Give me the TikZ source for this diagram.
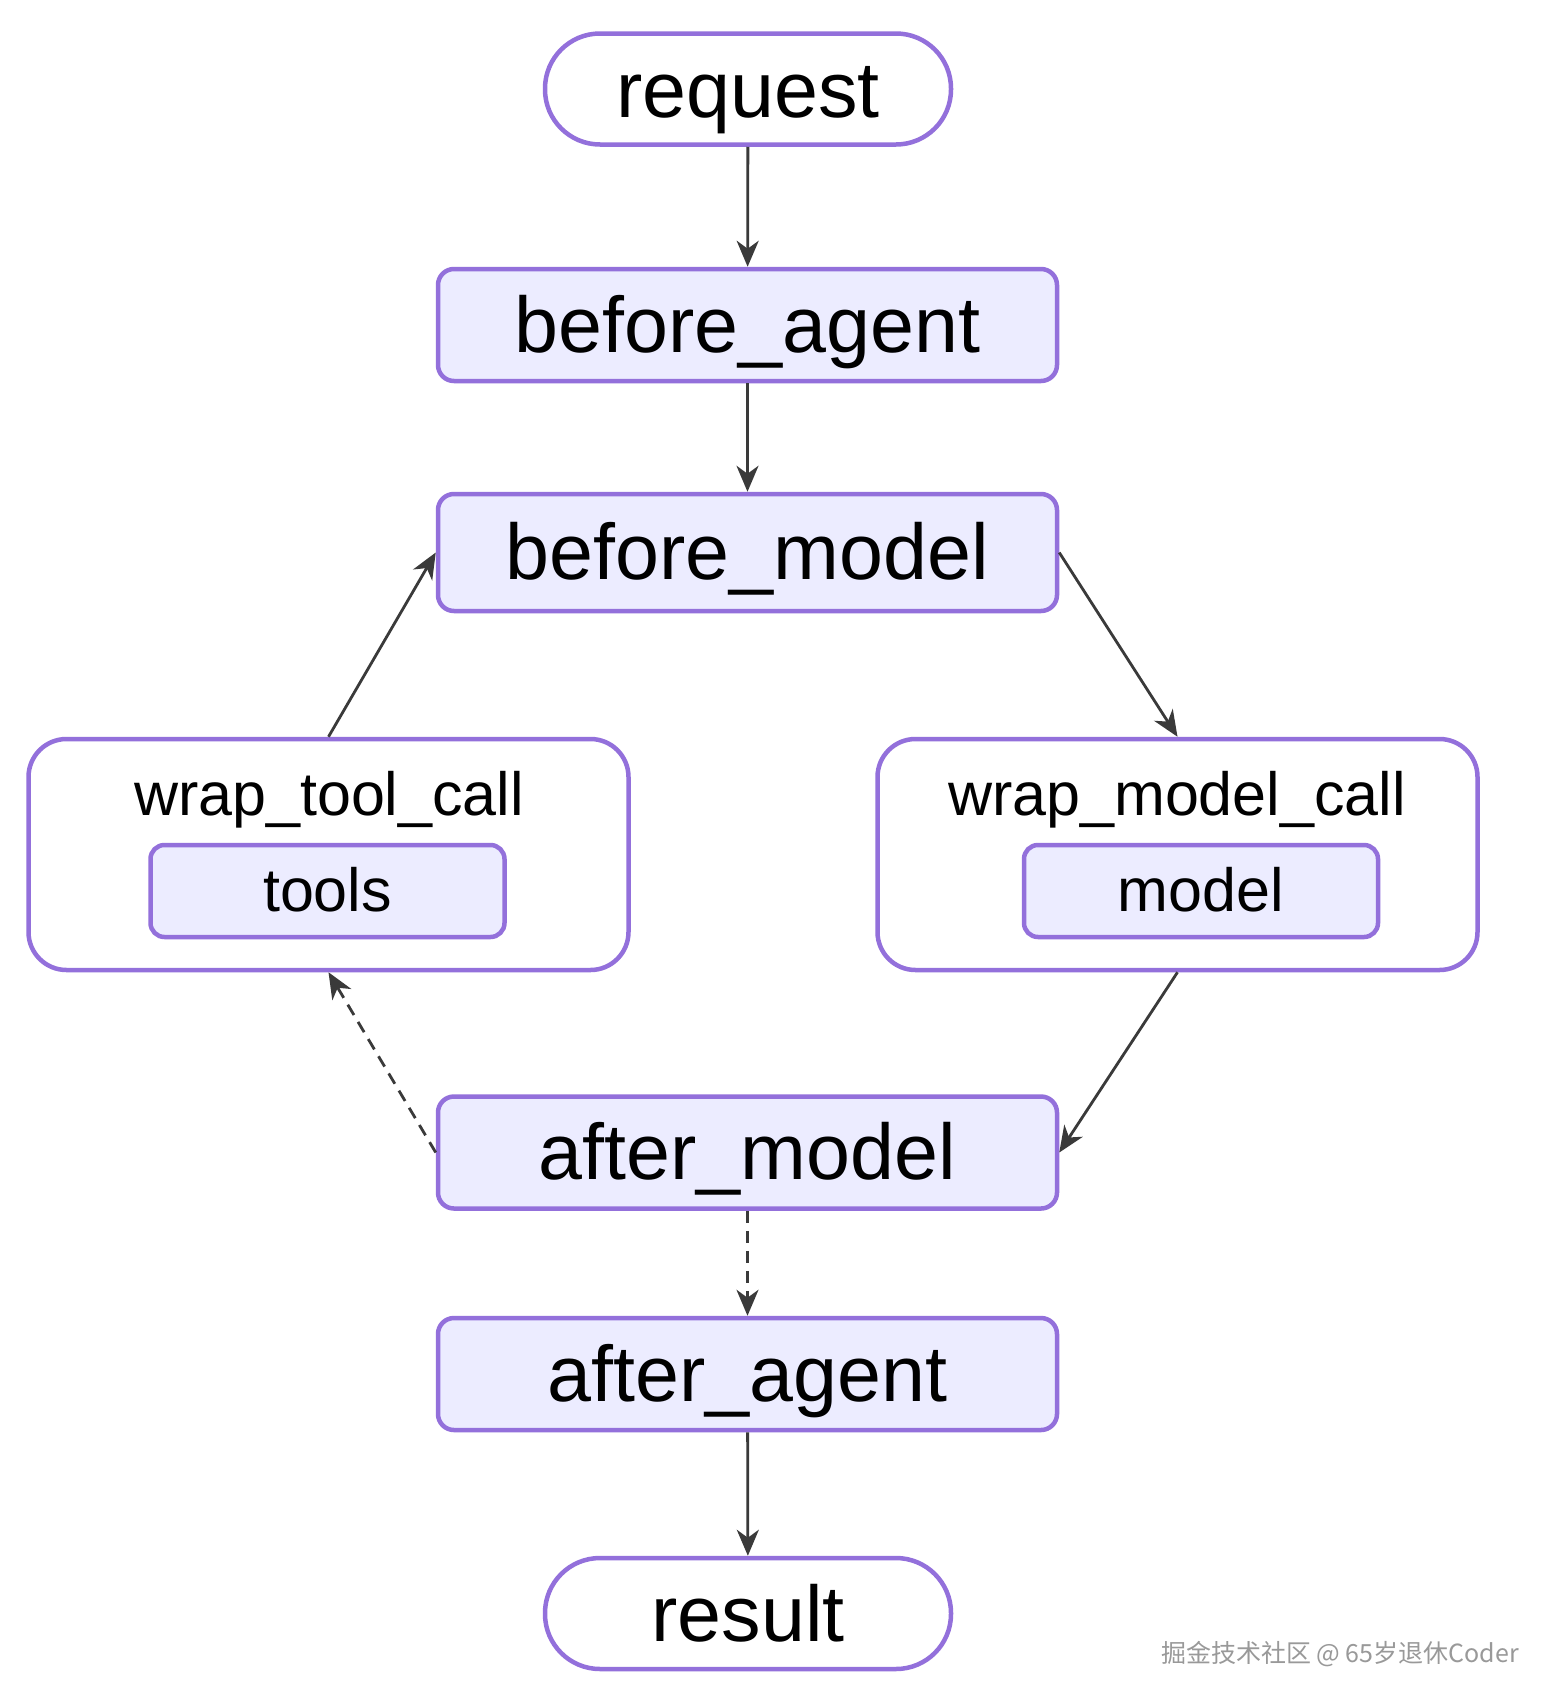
\documentclass[tikz,border=0pt]{standalone}
\usepackage{fontspec}
\setmainfont{Liberation Sans}
\newfontfamily\cjk{Noto Sans CJK SC}
\usetikzlibrary{arrows.meta}
\definecolor{bord}{HTML}{9370DB}
\definecolor{fillc}{HTML}{ECECFF}
\definecolor{edge}{HTML}{3A3A3A}
\tikzset{
  stadium/.style={draw=bord, line width=4.5pt, fill=white, rounded corners=55pt,
    minimum width=406pt, minimum height=111pt, inner sep=0pt, text height=56pt, text depth=0pt,
    font=\fontsize{79}{90}\selectfont},
  hookbox/.style={draw=bord, line width=4.5pt, fill=fillc, rounded corners=16pt,
    minimum width=619pt, minimum height=112pt, inner sep=0pt, text height=54pt, text depth=0pt,
    font=\fontsize{79}{90}\selectfont},
  cluster/.style={draw=bord, line width=4.5pt, fill=white, rounded corners=38pt,
    minimum width=600pt, minimum height=231pt, inner sep=0pt},
  innerbox/.style={draw=bord, line width=4.5pt, fill=fillc, rounded corners=14pt,
    minimum width=354pt, minimum height=92pt, inner sep=0pt, text height=40pt, text depth=0pt,
    font=\fontsize{61}{70}\selectfont},
  clabel/.style={inner sep=0pt, text height=42pt, text depth=0pt, font=\fontsize{61}{70}\selectfont},
  flow/.style={draw=edge, line width=2.8pt, -{Stealth[length=26pt,width=22pt,inset=8pt]}},
  dflow/.style={flow, dash pattern=on 12pt off 8pt},
}
\begin{document}
\begin{tikzpicture}[x=1pt,y=-1pt]
\useasboundingbox (0,0) rectangle (1560,1708);
\fill[white] (0,0) rectangle (1560,1708);

\node[stadium] (req) at (748,89) {request};
\node[hookbox] (ba) at (747.5,325) {before\_agent};
\node[hookbox, minimum height=117pt] (bm) at (747.5,552.5) {before\_model};
\node[cluster] (wt) at (328.5,854.5) {};
\node[clabel] (wtl) at (329,794) {wrap\_tool\_call};
\node[innerbox] (tl) at (327.5,891) {tools};
\node[cluster] (wm) at (1177.5,854.5) {};
\node[clabel] (wml) at (1177,794) {wrap\_model\_call};
\node[innerbox] (md) at (1201,891) {model};
\node[hookbox] (am) at (747.5,1152.5) {after\_model};
\node[hookbox] (aa) at (747.5,1374) {after\_agent};
\node[stadium] (res) at (748,1613.5) {result};

\node[inner sep=0pt, text=black!40, font=\cjk\fontsize{25}{30}\selectfont] (wmk) at (1340,1654) {掘金技术社区 @ 65岁退休Coder};

\draw[flow] (req) -- (ba);
\draw[flow] (ba) -- (bm);
\draw[flow] (bm.east) -- (wm.north);
\draw[flow] (wm.south) -- (am.east);
\draw[dflow] (am.west) -- (wt.south);
\draw[flow] (wt.north) -- (bm.west);
\draw[dflow] (am) -- (aa);
\draw[flow] (aa) -- (res);
\end{tikzpicture}
\end{document}
